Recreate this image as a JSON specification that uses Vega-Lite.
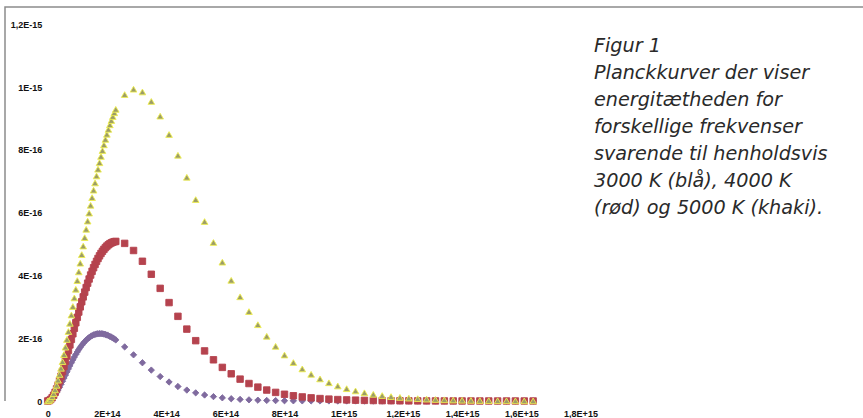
{
"$schema": "https://vega.github.io/schema/vega-lite/v6.json",
"width": 858, "height": 394,
"autosize": {"type": "none"},
"padding": {"left": 5, "top": 7, "right": 0, "bottom": 17},
"background": "white",
"config": {"view": {"stroke": "#8c8c8c", "strokeWidth": 1.5, "strokeDash": [858, 1252, 400]}},
"layer": [
{
"data": {"values": [
{"T":"3000","nu":0,"u":0},{"T":"3000","nu":0.5e13,"u":0.009278e-16},{"T":"3000","nu":1e13,"u":0.03563e-16},{"T":"3000","nu":1.5e13,"u":0.07692e-16},{"T":"3000","nu":2e13,"u":0.1311e-16},{"T":"3000","nu":2.5e13,"u":0.1964e-16},{"T":"3000","nu":3e13,"u":0.2709e-16},{"T":"3000","nu":3.5e13,"u":0.3531e-16},{"T":"3000","nu":4e13,"u":0.4413e-16},{"T":"3000","nu":4.5e13,"u":0.5343e-16},{"T":"3000","nu":5e13,"u":0.6306e-16},{"T":"3000","nu":5.5e13,"u":0.7290e-16},{"T":"3000","nu":6e13,"u":0.8286e-16},{"T":"3000","nu":6.5e13,"u":0.9282e-16},{"T":"3000","nu":7e13,"u":1.0270e-16},{"T":"3000","nu":7.5e13,"u":1.1242e-16},{"T":"3000","nu":8e13,"u":1.2191e-16},{"T":"3000","nu":8.5e13,"u":1.3110e-16},{"T":"3000","nu":9e13,"u":1.3994e-16},{"T":"3000","nu":9.5e13,"u":1.4839e-16},{"T":"3000","nu":10e13,"u":1.5641e-16},{"T":"3000","nu":10.5e13,"u":1.6395e-16},{"T":"3000","nu":11e13,"u":1.7100e-16},{"T":"3000","nu":11.5e13,"u":1.7754e-16},{"T":"3000","nu":12e13,"u":1.8355e-16},{"T":"3000","nu":12.5e13,"u":1.8901e-16},{"T":"3000","nu":13e13,"u":1.9394e-16},{"T":"3000","nu":13.5e13,"u":1.9831e-16},{"T":"3000","nu":14e13,"u":2.0215e-16},{"T":"3000","nu":14.5e13,"u":2.0544e-16},{"T":"3000","nu":15e13,"u":2.0821e-16},{"T":"3000","nu":15.5e13,"u":2.1045e-16},{"T":"3000","nu":16e13,"u":2.1220e-16},{"T":"3000","nu":16.5e13,"u":2.1345e-16},{"T":"3000","nu":17e13,"u":2.1424e-16},{"T":"3000","nu":17.5e13,"u":2.1458e-16},{"T":"3000","nu":18e13,"u":2.1448e-16},{"T":"3000","nu":18.5e13,"u":2.1398e-16},{"T":"3000","nu":19e13,"u":2.1309e-16},{"T":"3000","nu":19.5e13,"u":2.1183e-16},{"T":"3000","nu":20e13,"u":2.1023e-16},{"T":"3000","nu":20.5e13,"u":2.0831e-16},{"T":"3000","nu":21e13,"u":2.0609e-16},{"T":"3000","nu":21.5e13,"u":2.0360e-16},{"T":"3000","nu":22e13,"u":2.0086e-16},{"T":"3000","nu":22.5e13,"u":1.9789e-16},{"T":"3000","nu":23e13,"u":1.9471e-16},
{"T":"3000","nu":26e13,"u":1.7236e-16},{"T":"3000","nu":29e13,"u":1.4711e-16},{"T":"3000","nu":32e13,"u":1.2186e-16},{"T":"3000","nu":35e13,"u":0.9845e-16},{"T":"3000","nu":38e13,"u":0.7786e-16},{"T":"3000","nu":41e13,"u":0.6046e-16},{"T":"3000","nu":44e13,"u":0.4622e-16},{"T":"3000","nu":47e13,"u":0.3485e-16},{"T":"3000","nu":50e13,"u":0.2596e-16},{"T":"3000","nu":53e13,"u":0.1913e-16},{"T":"3000","nu":56e13,"u":0.1396e-16},{"T":"3000","nu":59e13,"u":0.1011e-16},{"T":"3000","nu":62e13,"u":0.07257e-16},{"T":"3000","nu":65e13,"u":0.05174e-16},{"T":"3000","nu":68e13,"u":0.03666e-16},{"T":"3000","nu":71e13,"u":0.02583e-16},{"T":"3000","nu":74e13,"u":0.01809e-16},{"T":"3000","nu":77e13,"u":0.01262e-16},{"T":"3000","nu":80e13,"u":0.008755e-16},{"T":"3000","nu":83e13,"u":0.00605e-16},{"T":"3000","nu":86e13,"u":0.004165e-16},{"T":"3000","nu":89e13,"u":0.002857e-16},{"T":"3000","nu":92e13,"u":0.001953e-16},{"T":"3000","nu":95e13,"u":0.001331e-16},{"T":"3000","nu":98e13,"u":0.0009038e-16},{"T":"3000","nu":101e13,"u":0.0006123e-16},{"T":"3000","nu":104e13,"u":0.0004137e-16},{"T":"3000","nu":107e13,"u":0.0002788e-16},{"T":"3000","nu":110e13,"u":0.0001875e-16},{"T":"3000","nu":113e13,"u":0.0001258e-16},{"T":"3000","nu":116e13,"u":0.0000842e-16},{"T":"3000","nu":119e13,"u":0.0000562e-16},{"T":"3000","nu":122e13,"u":0.0000375e-16},{"T":"3000","nu":125e13,"u":0.000025e-16},{"T":"3000","nu":128e13,"u":0.0000166e-16},{"T":"3000","nu":131e13,"u":0.000011e-16},{"T":"3000","nu":134e13,"u":0.0000073e-16},{"T":"3000","nu":137e13,"u":0.0000048e-16},{"T":"3000","nu":140e13,"u":0.0000032e-16},{"T":"3000","nu":143e13,"u":0.0000021e-16},{"T":"3000","nu":146e13,"u":0.0000014e-16},{"T":"3000","nu":149e13,"u":0.0000009e-16},{"T":"3000","nu":152e13,"u":0.0000006e-16},{"T":"3000","nu":155e13,"u":0.0000004e-16},{"T":"3000","nu":158e13,"u":0.0000003e-16},{"T":"3000","nu":161e13,"u":0.0000002e-16},{"T":"3000","nu":164e13,"u":0.0000001e-16},
{"T":"4000","nu":0,"u":0},{"T":"4000","nu":0.5e13,"u":0.01250e-16},{"T":"4000","nu":1e13,"u":0.04849e-16},{"T":"4000","nu":1.5e13,"u":0.1058e-16},{"T":"4000","nu":2e13,"u":0.1823e-16},{"T":"4000","nu":2.5e13,"u":0.2761e-16},{"T":"4000","nu":3e13,"u":0.3852e-16},{"T":"4000","nu":3.5e13,"u":0.5078e-16},{"T":"4000","nu":4e13,"u":0.6422e-16},{"T":"4000","nu":4.5e13,"u":0.7868e-16},{"T":"4000","nu":5e13,"u":0.9399e-16},{"T":"4000","nu":5.5e13,"u":1.1003e-16},{"T":"4000","nu":6e13,"u":1.2664e-16},{"T":"4000","nu":6.5e13,"u":1.4370e-16},{"T":"4000","nu":7e13,"u":1.6108e-16},{"T":"4000","nu":7.5e13,"u":1.7868e-16},{"T":"4000","nu":8e13,"u":1.9639e-16},{"T":"4000","nu":8.5e13,"u":2.1411e-16},{"T":"4000","nu":9e13,"u":2.3175e-16},{"T":"4000","nu":9.5e13,"u":2.4923e-16},{"T":"4000","nu":10e13,"u":2.6647e-16},{"T":"4000","nu":10.5e13,"u":2.8339e-16},{"T":"4000","nu":11e13,"u":2.9995e-16},{"T":"4000","nu":11.5e13,"u":3.1607e-16},{"T":"4000","nu":12e13,"u":3.3171e-16},{"T":"4000","nu":12.5e13,"u":3.4682e-16},{"T":"4000","nu":13e13,"u":3.6137e-16},{"T":"4000","nu":13.5e13,"u":3.7531e-16},{"T":"4000","nu":14e13,"u":3.8862e-16},{"T":"4000","nu":14.5e13,"u":4.0127e-16},{"T":"4000","nu":15e13,"u":4.1324e-16},{"T":"4000","nu":15.5e13,"u":4.2451e-16},{"T":"4000","nu":16e13,"u":4.3507e-16},{"T":"4000","nu":16.5e13,"u":4.4491e-16},{"T":"4000","nu":17e13,"u":4.5402e-16},{"T":"4000","nu":17.5e13,"u":4.6241e-16},{"T":"4000","nu":18e13,"u":4.7007e-16},{"T":"4000","nu":18.5e13,"u":4.7700e-16},{"T":"4000","nu":19e13,"u":4.8322e-16},{"T":"4000","nu":19.5e13,"u":4.8872e-16},{"T":"4000","nu":20e13,"u":4.9352e-16},{"T":"4000","nu":20.5e13,"u":4.9763e-16},{"T":"4000","nu":21e13,"u":5.0106e-16},{"T":"4000","nu":21.5e13,"u":5.0383e-16},{"T":"4000","nu":22e13,"u":5.0596e-16},{"T":"4000","nu":22.5e13,"u":5.0747e-16},{"T":"4000","nu":23e13,"u":5.0836e-16},
{"T":"4000","nu":26e13,"u":5.0211e-16},{"T":"4000","nu":29e13,"u":4.7943e-16},{"T":"4000","nu":32e13,"u":4.4515e-16},{"T":"4000","nu":35e13,"u":4.0371e-16},{"T":"4000","nu":38e13,"u":3.5884e-16},{"T":"4000","nu":41e13,"u":3.1347e-16},{"T":"4000","nu":44e13,"u":2.6972e-16},{"T":"4000","nu":47e13,"u":2.2901e-16},{"T":"4000","nu":50e13,"u":1.9217e-16},{"T":"4000","nu":53e13,"u":1.5957e-16},{"T":"4000","nu":56e13,"u":1.3126e-16},{"T":"4000","nu":59e13,"u":1.0707e-16},{"T":"4000","nu":62e13,"u":0.8667e-16},{"T":"4000","nu":65e13,"u":0.6966e-16},{"T":"4000","nu":68e13,"u":0.5565e-16},{"T":"4000","nu":71e13,"u":0.4419e-16},{"T":"4000","nu":74e13,"u":0.3491e-16},{"T":"4000","nu":77e13,"u":0.2744e-16},{"T":"4000","nu":80e13,"u":0.2147e-16},{"T":"4000","nu":83e13,"u":0.1673e-16},{"T":"4000","nu":86e13,"u":0.1298e-16},{"T":"4000","nu":89e13,"u":0.1004e-16},{"T":"4000","nu":92e13,"u":0.07737e-16},{"T":"4000","nu":95e13,"u":0.05944e-16},{"T":"4000","nu":98e13,"u":0.04553e-16},{"T":"4000","nu":101e13,"u":0.03477e-16},{"T":"4000","nu":104e13,"u":0.02649e-16},{"T":"4000","nu":107e13,"u":0.02013e-16},{"T":"4000","nu":110e13,"u":0.01526e-16},{"T":"4000","nu":113e13,"u":0.01154e-16},{"T":"4000","nu":116e13,"u":0.00871e-16},{"T":"4000","nu":119e13,"u":0.006561e-16},{"T":"4000","nu":122e13,"u":0.004933e-16},{"T":"4000","nu":125e13,"u":0.003702e-16},{"T":"4000","nu":128e13,"u":0.002774e-16},{"T":"4000","nu":131e13,"u":0.002074e-16},{"T":"4000","nu":134e13,"u":0.001549e-16},{"T":"4000","nu":137e13,"u":0.001155e-16},{"T":"4000","nu":140e13,"u":0.00086e-16},{"T":"4000","nu":143e13,"u":0.000639e-16},{"T":"4000","nu":146e13,"u":0.000475e-16},{"T":"4000","nu":149e13,"u":0.000352e-16},{"T":"4000","nu":152e13,"u":0.000261e-16},{"T":"4000","nu":155e13,"u":0.000193e-16},{"T":"4000","nu":158e13,"u":0.000143e-16},{"T":"4000","nu":161e13,"u":0.000105e-16},{"T":"4000","nu":164e13,"u":0.0000776e-16},
{"T":"5000","nu":0,"u":0},{"T":"5000","nu":0.5e13,"u":0.01572e-16},{"T":"5000","nu":1e13,"u":0.06135e-16},{"T":"5000","nu":1.5e13,"u":0.1347e-16},{"T":"5000","nu":2e13,"u":0.2336e-16},{"T":"5000","nu":2.5e13,"u":0.3561e-16},{"T":"5000","nu":3e13,"u":0.5001e-16},{"T":"5000","nu":3.5e13,"u":0.6637e-16},{"T":"5000","nu":4e13,"u":0.8451e-16},{"T":"5000","nu":4.5e13,"u":1.0425e-16},{"T":"5000","nu":5e13,"u":1.2543e-16},{"T":"5000","nu":5.5e13,"u":1.4787e-16},{"T":"5000","nu":6e13,"u":1.7143e-16},{"T":"5000","nu":6.5e13,"u":1.9596e-16},{"T":"5000","nu":7e13,"u":2.2130e-16},{"T":"5000","nu":7.5e13,"u":2.4734e-16},{"T":"5000","nu":8e13,"u":2.7394e-16},{"T":"5000","nu":8.5e13,"u":3.0097e-16},{"T":"5000","nu":9e13,"u":3.2833e-16},{"T":"5000","nu":9.5e13,"u":3.5590e-16},{"T":"5000","nu":10e13,"u":3.8358e-16},{"T":"5000","nu":10.5e13,"u":4.1128e-16},{"T":"5000","nu":11e13,"u":4.3889e-16},{"T":"5000","nu":11.5e13,"u":4.6635e-16},{"T":"5000","nu":12e13,"u":4.9355e-16},{"T":"5000","nu":12.5e13,"u":5.2044e-16},{"T":"5000","nu":13e13,"u":5.4695e-16},{"T":"5000","nu":13.5e13,"u":5.7300e-16},{"T":"5000","nu":14e13,"u":5.9854e-16},{"T":"5000","nu":14.5e13,"u":6.2351e-16},{"T":"5000","nu":15e13,"u":6.4787e-16},{"T":"5000","nu":15.5e13,"u":6.7158e-16},{"T":"5000","nu":16e13,"u":6.9457e-16},{"T":"5000","nu":16.5e13,"u":7.1684e-16},{"T":"5000","nu":17e13,"u":7.3833e-16},{"T":"5000","nu":17.5e13,"u":7.5902e-16},{"T":"5000","nu":18e13,"u":7.7888e-16},{"T":"5000","nu":18.5e13,"u":7.9790e-16},{"T":"5000","nu":19e13,"u":8.1606e-16},{"T":"5000","nu":19.5e13,"u":8.3334e-16},{"T":"5000","nu":20e13,"u":8.4973e-16},{"T":"5000","nu":20.5e13,"u":8.6523e-16},{"T":"5000","nu":21e13,"u":8.7981e-16},{"T":"5000","nu":21.5e13,"u":8.9348e-16},{"T":"5000","nu":22e13,"u":9.0624e-16},{"T":"5000","nu":22.5e13,"u":9.1810e-16},{"T":"5000","nu":23e13,"u":9.2905e-16},
{"T":"5000","nu":26e13,"u":9.7611e-16},{"T":"5000","nu":29e13,"u":9.9325e-16},{"T":"5000","nu":32e13,"u":9.8437e-16},{"T":"5000","nu":35e13,"u":9.5413e-16},{"T":"5000","nu":38e13,"u":9.0741e-16},{"T":"5000","nu":41e13,"u":8.4888e-16},{"T":"5000","nu":44e13,"u":7.8278e-16},{"T":"5000","nu":47e13,"u":7.1269e-16},{"T":"5000","nu":50e13,"u":6.4159e-16},{"T":"5000","nu":53e13,"u":5.7176e-16},{"T":"5000","nu":56e13,"u":5.0492e-16},{"T":"5000","nu":59e13,"u":4.4223e-16},{"T":"5000","nu":62e13,"u":3.8445e-16},{"T":"5000","nu":65e13,"u":3.3194e-16},{"T":"5000","nu":68e13,"u":2.8482e-16},{"T":"5000","nu":71e13,"u":2.4300e-16},{"T":"5000","nu":74e13,"u":2.0623e-16},{"T":"5000","nu":77e13,"u":1.7417e-16},{"T":"5000","nu":80e13,"u":1.4644e-16},{"T":"5000","nu":83e13,"u":1.2260e-16},{"T":"5000","nu":86e13,"u":1.0225e-16},{"T":"5000","nu":89e13,"u":0.8497e-16},{"T":"5000","nu":92e13,"u":0.7037e-16},{"T":"5000","nu":95e13,"u":0.5809e-16},{"T":"5000","nu":98e13,"u":0.4781e-16},{"T":"5000","nu":101e13,"u":0.3924e-16},{"T":"5000","nu":104e13,"u":0.3213e-16},{"T":"5000","nu":107e13,"u":0.2623e-16},{"T":"5000","nu":110e13,"u":0.2137e-16},{"T":"5000","nu":113e13,"u":0.1737e-16},{"T":"5000","nu":116e13,"u":0.1409e-16},{"T":"5000","nu":119e13,"u":0.1140e-16},{"T":"5000","nu":122e13,"u":0.09215e-16},{"T":"5000","nu":125e13,"u":0.07431e-16},{"T":"5000","nu":128e13,"u":0.05983e-16},{"T":"5000","nu":131e13,"u":0.04809e-16},{"T":"5000","nu":134e13,"u":0.03859e-16},{"T":"5000","nu":137e13,"u":0.03092e-16},{"T":"5000","nu":140e13,"u":0.02474e-16},{"T":"5000","nu":143e13,"u":0.01977e-16},{"T":"5000","nu":146e13,"u":0.01578e-16},{"T":"5000","nu":149e13,"u":0.01257e-16},{"T":"5000","nu":152e13,"u":0.01001e-16},{"T":"5000","nu":155e13,"u":0.007957e-16},{"T":"5000","nu":158e13,"u":0.006319e-16},{"T":"5000","nu":161e13,"u":0.005013e-16},{"T":"5000","nu":164e13,"u":0.003973e-16}
]},
"mark": {"type": "point", "filled": true, "opacity": 1, "strokeWidth": 0.9},
"encoding": {
"x": {"field": "nu", "type": "quantitative",
 "scale": {"domain": [-1.4426e14, 2.7544e15], "nice": false, "zero": false},
 "axis": {"title": null, "grid": false, "domain": false, "ticks": false,
  "values": [0, 2e14, 4e14, 6e14, 8e14, 1e15, 1.2e15, 1.4e15, 1.6e15, 1.8e15],
  "labelExpr": "round(datum.value/1e14) == 0 ? '0' : (round(datum.value/1e14) < 10 ? round(datum.value/1e14) + 'E+14' : (round(datum.value/1e14) == 10 ? '1E+15' : '1,' + (round(datum.value/1e14) - 10) + 'E+15'))",
  "labelFont": "Liberation Sans", "labelFontSize": 9, "labelFontWeight": "bold", "labelColor": "#111111", "labelPadding": 8, "labelFlush": false, "labelOverlap": false}},
"y": {"field": "u", "type": "quantitative",
 "scale": {"domain": [0, 1.2551e-15], "nice": false, "zero": false},
 "axis": {"title": null, "grid": false, "domain": false, "ticks": false, "offset": -42.7,
  "values": [0, 2e-16, 4e-16, 6e-16, 8e-16, 1e-15, 1.2e-15],
  "labelExpr": "round(datum.value*1e16) == 0 ? '0' : (round(datum.value*1e16) < 10 ? round(datum.value*1e16) + 'E-16' : (round(datum.value*1e16) == 10 ? '1E-15' : '1,' + (round(datum.value*1e16) - 10) + 'E-15'))",
  "labelFont": "Liberation Sans", "labelFontSize": 9, "labelFontWeight": "bold", "labelColor": "#111111", "labelPadding": 6, "labelFlush": false, "labelOverlap": false}},
"color": {"field": "T", "type": "nominal", "legend": null,
 "scale": {"domain": ["3000", "4000", "5000"], "range": ["#7f6a9e", "#b5434e", "#9c9c68"]}},
"stroke": {"field": "T", "type": "nominal", "legend": null,
 "scale": {"domain": ["3000", "4000", "5000"], "range": ["#7f6a9e", "#b5434e", "#eeee50"]}},
"shape": {"field": "T", "type": "nominal", "legend": null,
 "scale": {"domain": ["3000", "4000", "5000"], "range": ["diamond", "square", "triangle-up"]}},
"size": {"field": "T", "type": "nominal", "legend": null,
 "scale": {"domain": ["3000", "4000", "5000"], "range": [40, 44, 46]}}
}
},
{
"data": {"values": [{}]},
"mark": {"type": "text", "text": ["Figur 1", "Planckkurver der viser", "energitætheden for", "forskellige frekvenser", "svarende til henholdsvis", "3000 K (blå), 4000 K", "(rød) og 5000 K (khaki)."],
 "lineHeight": 27, "align": "left", "baseline": "alphabetic", "font": "DejaVu Sans", "fontStyle": "italic", "fontSize": 19.2, "color": "#2a2a2a"},
"encoding": {
"x": {"datum": 1.8456e15, "type": "quantitative"},
"y": {"datum": 1.1127e-15, "type": "quantitative"}
}
}
]
}
